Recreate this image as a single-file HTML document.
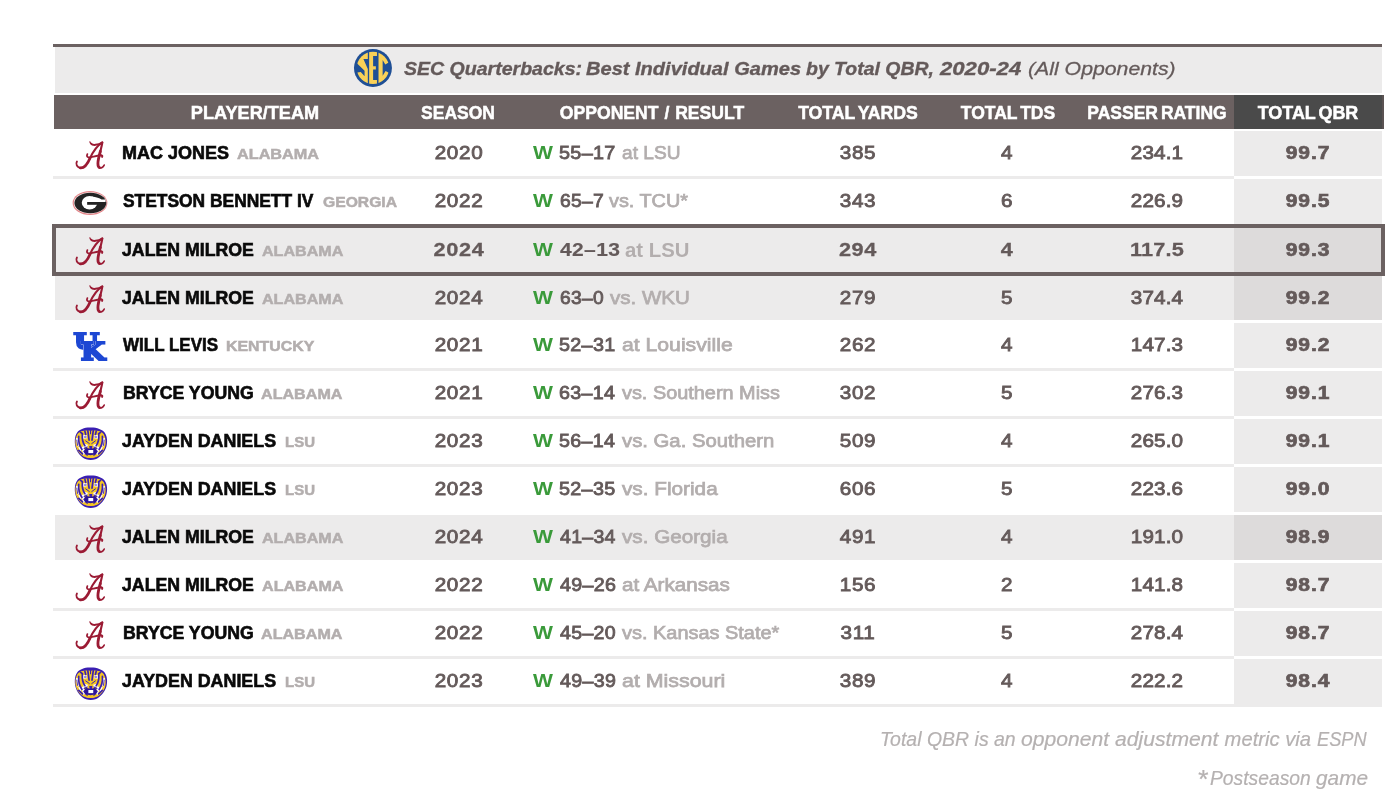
<!DOCTYPE html>
<html lang="en"><head><meta charset="utf-8"><title>SEC Quarterbacks: Best Individual Games by Total QBR</title>
<style>
html,body{margin:0;padding:0;background:#fff;}
body{width:1400px;height:798px;overflow:hidden;position:relative;font-family:"Liberation Sans",sans-serif;}
#wrap{position:absolute;left:0;top:0;width:1400px;height:798px;}
#topline{position:absolute;left:53px;top:44px;width:1329px;height:3px;background:#6b6161;}
#title{position:absolute;left:55px;top:47px;width:1327px;height:46px;background:#ecebeb;}
#sec{position:absolute;left:295px;top:-1px;width:46px;height:44px;}
.tt{position:absolute;left:0;top:0;height:46px;line-height:44px;font-size:19.1px;font-style:italic;color:#645a5a;white-space:nowrap;}
.ts{position:absolute;top:0;transform-origin:0 50%;}
b.ts{font-weight:bold;-webkit-text-stroke:0.35px #645a5a;}
i.ts{font-weight:normal;-webkit-text-stroke:0.3px #645a5a;}
#head{position:absolute;left:54px;top:95px;width:1328px;height:34px;background:#6b6161;border-right:2px solid #5a5252;}
#head:after{content:"";position:absolute;left:1180px;top:0;width:148px;height:34px;background:#4a4a4a;}
.h{position:absolute;top:0;height:34px;line-height:36px;color:#fff;font-weight:bold;font-size:18px;word-spacing:-2px;white-space:nowrap;transform:translateX(-50%) scaleX(1.007);z-index:2;-webkit-text-stroke:0.5px #fff;}
#head .c3{word-spacing:1px;transform:translateX(-50%) scaleX(0.977);}
#head .c2{transform:translateX(-50%) scaleX(0.971);}#head .c4{transform:translateX(-50%) scaleX(0.981);}#head .c5{transform:translateX(-50%) scaleX(0.972);}#head .c6{transform:translateX(-50%) scaleX(0.972);}#head .c7{transform:translateX(-50%) scaleX(0.996);}
#head .c1{left:200.6px}#head .c2{left:404.4px}#head .c3{left:598.2px}#head .c4{left:803.8px}#head .c5{left:953.7px}#head .c6{left:1103.4px}#head .c7{left:1253.5px}
.row{position:absolute;left:54px;width:1328px;height:48px;}
.row .bg{position:absolute;left:-1px;top:2px;width:1181px;height:45px;background:#fff;border-bottom:3px solid #ecebeb;}
.row.nb .bg{border-bottom-color:#fff;}
.row .qb{position:absolute;left:1180px;top:2px;width:148px;height:45px;background:#ecebeb;}
.row.last .qb{height:48px;}
.row.gr .bg,.row.hl .bg{background:#ecebeb;left:1px;width:1179px;border-bottom-color:#fff;}
.row.gr .qb,.row.hl .qb{background:#dddbdb;}
.logo{position:absolute;left:0;top:0;width:0;height:0;}
.lg{position:absolute;display:block;overflow:visible;}
.la{left:16px;top:5px;width:42px;height:40px;}
.lgg{left:16.45px;top:5.7px;width:40px;height:40px;}
.lk{left:16px;top:1px;width:40px;height:40px;}
.ll{left:16.6px;top:6.6px;width:39px;height:39px;filter:blur(0.25px);}
.t{position:absolute;top:0;height:48px;line-height:48px;white-space:nowrap;transform-origin:0 50%;}
.nm{font-weight:bold;font-size:17.5px;color:#0a0a0a;-webkit-text-stroke:0.6px #0a0a0a;}
.tm{font-weight:bold;font-size:14.6px;line-height:50px;color:#b3aeae;-webkit-text-stroke:0.5px #b3aeae;}
.n{position:absolute;top:0;height:48px;line-height:48px;font-size:18.8px;font-weight:normal;color:#645a5a;letter-spacing:0.6px;transform:translateX(-50%) scaleX(1.10);white-space:nowrap;-webkit-text-stroke:0.85px #645a5a;}
.n.c6{letter-spacing:0.15px;}
.hl .n{font-weight:bold;font-size:19.2px;-webkit-text-stroke:0.3px #645a5a;transform:translateX(-50%) scaleX(1.13);}
.n.q{font-weight:bold;font-size:18.8px;letter-spacing:0.8px;transform:translateX(-50%) scaleX(1.12);-webkit-text-stroke:0.7px #645a5a;}
.row .c2{left:404.5px}.row .c4{left:803.7px}.row .c5{left:953.3px}.row .c6{left:1103.3px}.row .c7{left:1253.8px}
.w{left:479.3px;font-size:19px;color:#3a9a3a;font-weight:bold;transform:scaleX(1.11);}
.sc{font-size:18.8px;color:#645a5a;font-weight:normal;letter-spacing:0.3px;-webkit-text-stroke:0.85px #645a5a;}
.hl .sc{font-size:19.2px;font-weight:bold;-webkit-text-stroke:0.15px #645a5a;}
.vs{font-size:19px;color:#b3aeae;-webkit-text-stroke:0.75px #b3aeae;}
.hl .vs{font-size:19.4px;font-weight:bold;-webkit-text-stroke:0;}
#hlbox{position:absolute;left:52px;top:224px;width:1325px;height:44px;border:4px solid #6b6161;}
.ft{position:absolute;left:0;width:1400px;height:28px;line-height:28px;font-size:20.2px;-webkit-text-stroke:0.2px #b5b1b1;font-style:italic;color:#b5b1b1;white-space:nowrap;}
.fs{position:absolute;top:0;transform-origin:0 50%;}
.fs.ast{font-size:25px;top:1px;}
.d2 .t,.d2 .n{top:1px;}

</style></head><body>
<div id="wrap">
<div id="topline"></div>
<div id="title"><svg id="sec" viewBox="0 0 834 798" aria-label="SEC logo"><clipPath id="secc"><circle cx="416" cy="397.5" r="293"/></clipPath><circle cx="416" cy="397.5" r="344" fill="#1f4f95"/><g clip-path="url(#secc)" fill="#f9d158"><polygon points="323,90 323,238 243,238 323,415 323,710 100,710 100,480 130,480 195,472 264,548 264,448 125,312 100,312 100,90"/><polygon points="347,90 489,90 489,183 419,183 419,367 469,367 469,428 419,428 419,617 489,617 489,710 347,710"/><polygon points="517,90 760,90 760,290 700,300 640,335 592,255 592,540 645,455 705,485 760,500 760,710 517,710"/></g></svg><span class="tt"><b class="ts" style="left:348.8px;transform:scaleX(1.023)">SEC Quarterbacks:</b> <b class="ts" style="left:531.3px;transform:scaleX(1.050)">Best Individual Games</b> <b class="ts" style="left:751.0px;transform:scaleX(1.019)">by Total QBR,</b> <b class="ts" style="left:885.4px;transform:scaleX(1.159)">2020-24</b> <i class="ts" style="left:972.8px;transform:scaleX(1.113)">(All Opponents)</i></span></div>
<div id="head"><span class="h c1">PLAYER/TEAM</span> <span class="h c2">SEASON</span> <span class="h c3">OPPONENT / RESULT</span> <span class="h c4">TOTAL YARDS</span> <span class="h c5">TOTAL TDS</span> <span class="h c6">PASSER RATING</span> <span class="h c7">TOTAL QBR</span></div>
<div class="row" style="top:129px"><div class="bg"></div><div class="qb"></div><span class="logo"><svg class="lg la" viewBox="-10 -14 860 819" aria-label="Alabama logo" fill="none" stroke="#9b1b34" stroke-linecap="round" stroke-linejoin="round"><path d="M132,548 C100,600 130,672 215,682" stroke-width="38"/><path d="M200,680 C290,690 350,600 400,480" stroke-width="54"/><path d="M395,490 C450,370 540,230 650,158" stroke-width="42"/><path d="M652,160 C560,218 450,222 425,185" stroke-width="42"/><path d="M430,192 C410,178 402,165 398,148" stroke-width="26"/><path d="M650,172 C640,230 622,300 605,370" stroke-width="44"/><path d="M612,340 C585,440 562,520 562,590 C562,640 575,665 595,672" stroke-width="58"/><path d="M580,672 C630,700 670,660 690,622" stroke-width="34"/><path d="M345,398 C320,450 350,475 420,462 C500,445 600,420 640,422 C655,425 655,445 648,455" stroke-width="38"/></svg></span><span class="t nm" style="left:68.2px;transform:scaleX(1.028)">MAC JONES</span> <span class="t tm" style="left:182.9px;transform:scaleX(1.112)">ALABAMA</span> <span class="n c2">2020</span> <span class="t w">W</span> <span class="t sc" style="left:504.7px;transform:scaleX(1.054)">55–17</span> <span class="t vs" style="left:568.3px;transform:scaleX(1.006)">at LSU</span> <span class="n c4">385</span> <span class="n c5">4</span> <span class="n c6">234.1</span> <span class="n c7 q">99.7</span></div>
<div class="row nb" style="top:177px"><div class="bg"></div><div class="qb"></div><span class="logo"><svg class="lg lgg" viewBox="70.45 182.7 40 40" aria-label="Georgia logo"><ellipse cx="90.45" cy="202.7" rx="17.4" ry="12" fill="#e3868a"/><ellipse cx="90.6" cy="202.65" rx="16.4" ry="10.8" fill="#f6eaea"/><ellipse cx="90.8" cy="202.65" rx="15.9" ry="10.2" fill="#232323"/><ellipse cx="90" cy="202.5" rx="7.8" ry="6.8" fill="#fff"/><path d="M92,196.2 C97,196.6 100,198 102,199.2 L106,199.2 L106,201.7 L92,201.7 Z" fill="#fff"/><rect x="87.6" y="201.7" width="19" height="2.8" fill="#232323"/></svg></span><span class="t nm" style="left:69.0px;transform:scaleX(0.994)">STETSON BENNETT IV</span> <span class="t tm" style="left:268.7px;transform:scaleX(1.074)">GEORGIA</span> <span class="n c2">2022</span> <span class="t w">W</span> <span class="t sc" style="left:505.5px;transform:scaleX(1.027)">65–7</span> <span class="t vs" style="left:555.4px;transform:scaleX(1.044)">vs. TCU*</span> <span class="n c4">343</span> <span class="n c5">6</span> <span class="n c6">226.9</span> <span class="n c7 q">99.5</span></div>
<div class="row hl nb d2" style="top:225px"><div class="bg"></div><div class="qb"></div><span class="logo"><svg class="lg la" viewBox="-10 -14 860 819" aria-label="Alabama logo" fill="none" stroke="#9b1b34" stroke-linecap="round" stroke-linejoin="round"><path d="M132,548 C100,600 130,672 215,682" stroke-width="38"/><path d="M200,680 C290,690 350,600 400,480" stroke-width="54"/><path d="M395,490 C450,370 540,230 650,158" stroke-width="42"/><path d="M652,160 C560,218 450,222 425,185" stroke-width="42"/><path d="M430,192 C410,178 402,165 398,148" stroke-width="26"/><path d="M650,172 C640,230 622,300 605,370" stroke-width="44"/><path d="M612,340 C585,440 562,520 562,590 C562,640 575,665 595,672" stroke-width="58"/><path d="M580,672 C630,700 670,660 690,622" stroke-width="34"/><path d="M345,398 C320,450 350,475 420,462 C500,445 600,420 640,422 C655,425 655,445 648,455" stroke-width="38"/></svg></span><span class="t nm" style="left:68.2px;transform:scaleX(1.012)">JALEN MILROE</span> <span class="t tm" style="left:207.9px;transform:scaleX(1.103)">ALABAMA</span> <span class="n c2">2024</span> <span class="t w">W</span> <span class="t sc" style="left:506.2px;transform:scaleX(1.098)">42–13</span> <span class="t vs" style="left:570.8px;transform:scaleX(1.048)">at LSU</span> <span class="n c4">294</span> <span class="n c5">4</span> <span class="n c6">117.5</span> <span class="n c7 q">99.3</span></div>
<div class="row gr d2" style="top:273px"><div class="bg"></div><div class="qb"></div><span class="logo"><svg class="lg la" viewBox="-10 -14 860 819" aria-label="Alabama logo" fill="none" stroke="#9b1b34" stroke-linecap="round" stroke-linejoin="round"><path d="M132,548 C100,600 130,672 215,682" stroke-width="38"/><path d="M200,680 C290,690 350,600 400,480" stroke-width="54"/><path d="M395,490 C450,370 540,230 650,158" stroke-width="42"/><path d="M652,160 C560,218 450,222 425,185" stroke-width="42"/><path d="M430,192 C410,178 402,165 398,148" stroke-width="26"/><path d="M650,172 C640,230 622,300 605,370" stroke-width="44"/><path d="M612,340 C585,440 562,520 562,590 C562,640 575,665 595,672" stroke-width="58"/><path d="M580,672 C630,700 670,660 690,622" stroke-width="34"/><path d="M345,398 C320,450 350,475 420,462 C500,445 600,420 640,422 C655,425 655,445 648,455" stroke-width="38"/></svg></span><span class="t nm" style="left:68.2px;transform:scaleX(1.012)">JALEN MILROE</span> <span class="t tm" style="left:207.9px;transform:scaleX(1.103)">ALABAMA</span> <span class="n c2">2024</span> <span class="t w">W</span> <span class="t sc" style="left:505.5px;transform:scaleX(1.022)">63–0</span> <span class="t vs" style="left:555.8px;transform:scaleX(1.081)">vs. WKU</span> <span class="n c4">279</span> <span class="n c5">5</span> <span class="n c6">374.4</span> <span class="n c7 q">99.2</span></div>
<div class="row" style="top:321px"><div class="bg"></div><div class="qb"></div><span class="logo"><svg class="lg lk" viewBox="70 322 40 40" aria-label="Kentucky logo" style="font-family:DejaVu Serif,Liberation Serif,serif;font-weight:bold" fill="#1d47d3" stroke="#1d47d3" stroke-width="1.9" stroke-linejoin="miter"><text x="73.5" y="349.2" font-size="22.5" textLength="25.7" lengthAdjust="spacingAndGlyphs">U</text><text x="80.8" y="360.1" font-size="24" textLength="24.5" lengthAdjust="spacingAndGlyphs" style="filter:drop-shadow(0 0 .45px #e4e9fb) drop-shadow(0 0 .45px #e4e9fb)">K</text></svg></span><span class="t nm" style="left:68.8px;transform:scaleX(0.972)">WILL LEVIS</span> <span class="t tm" style="left:172.3px;transform:scaleX(1.090)">KENTUCKY</span> <span class="n c2">2021</span> <span class="t w">W</span> <span class="t sc" style="left:504.7px;transform:scaleX(1.052)">52–31</span> <span class="t vs" style="left:567.5px;transform:scaleX(1.115)">at Louisville</span> <span class="n c4">262</span> <span class="n c5">4</span> <span class="n c6">147.3</span> <span class="n c7 q">99.2</span></div>
<div class="row" style="top:369px"><div class="bg"></div><div class="qb"></div><span class="logo"><svg class="lg la" viewBox="-10 -14 860 819" aria-label="Alabama logo" fill="none" stroke="#9b1b34" stroke-linecap="round" stroke-linejoin="round"><path d="M132,548 C100,600 130,672 215,682" stroke-width="38"/><path d="M200,680 C290,690 350,600 400,480" stroke-width="54"/><path d="M395,490 C450,370 540,230 650,158" stroke-width="42"/><path d="M652,160 C560,218 450,222 425,185" stroke-width="42"/><path d="M430,192 C410,178 402,165 398,148" stroke-width="26"/><path d="M650,172 C640,230 622,300 605,370" stroke-width="44"/><path d="M612,340 C585,440 562,520 562,590 C562,640 575,665 595,672" stroke-width="58"/><path d="M580,672 C630,700 670,660 690,622" stroke-width="34"/><path d="M345,398 C320,450 350,475 420,462 C500,445 600,420 640,422 C655,425 655,445 648,455" stroke-width="38"/></svg></span><span class="t nm" style="left:68.6px;transform:scaleX(1.011)">BRYCE YOUNG</span> <span class="t tm" style="left:207.2px;transform:scaleX(1.104)">ALABAMA</span> <span class="n c2">2021</span> <span class="t w">W</span> <span class="t sc" style="left:505.1px;transform:scaleX(1.047)">63–14</span> <span class="t vs" style="left:568.0px;transform:scaleX(1.046)">vs. Southern Miss</span> <span class="n c4">302</span> <span class="n c5">5</span> <span class="n c6">276.3</span> <span class="n c7 q">99.1</span></div>
<div class="row" style="top:417px"><div class="bg"></div><div class="qb"></div><span class="logo"><svg class="lg ll" viewBox="0 0 798 798" aria-label="LSU logo"><path d="M400,72 C520,68 640,108 692,180 C742,250 752,380 722,470 C692,570 600,682 500,722 C440,742 370,742 310,722 C200,682 118,570 93,470 C68,380 73,250 123,180 C170,108 280,68 400,72Z" fill="#3a1fb2"/><path d="M400,140 C500,120 625,140 668,205 C716,285 722,400 694,482 C668,556 610,622 560,655 C505,702 295,702 240,655 C190,622 132,556 106,482 C78,400 84,285 132,205 C175,140 300,120 400,140Z" fill="#f3c524"/><g fill="#fff"><path d="M100,290 L140,285 L160,455 L128,462 Z"/><path d="M698,290 L658,285 L638,455 L670,462 Z"/><path d="M240,230 L320,225 L330,290 L250,300 Z"/><path d="M560,230 L480,225 L470,290 L550,300 Z"/><path d="M255,400 L345,425 L330,490 L262,475 Z"/><path d="M545,400 L455,425 L470,490 L538,475 Z"/><path d="M205,470 L262,460 L300,600 L255,635 Z"/><path d="M595,470 L538,460 L500,600 L545,635 Z"/><path d="M150,470 L185,465 L215,560 L190,575 Z"/><path d="M650,470 L615,465 L585,560 L610,575 Z"/></g><g fill="none" stroke="#3a1fb2" stroke-width="34" stroke-linecap="round"><path d="M158,250 C150,340 175,450 225,520"/><path d="M642,250 C650,340 625,450 575,520"/><path d="M232,215 C225,300 245,390 285,445"/><path d="M568,215 C575,300 555,390 515,445"/><path d="M160,540 L235,610"/><path d="M640,540 L565,610"/><path d="M285,150 L300,215"/><path d="M515,150 L500,215"/><path d="M345,140 L370,330"/><path d="M455,140 L430,330"/><path d="M195,170 L235,200"/><path d="M605,170 L565,200"/><path d="M400,130 L400,200" stroke-width="22"/><path d="M120,330 L135,440" stroke-width="18"/><path d="M678,330 L663,440" stroke-width="18"/><path d="M265,560 L330,640" stroke-width="28"/><path d="M535,560 L470,640" stroke-width="28"/><path d="M330,470 L270,500" stroke-width="22"/><path d="M470,470 L530,500" stroke-width="22"/><path d="M300,345 L375,400" stroke-width="20"/><path d="M500,345 L425,400" stroke-width="20"/></g><g fill="#3a1fb2"><ellipse cx="292" cy="268" rx="34" ry="20" opacity=".55"/><ellipse cx="508" cy="268" rx="34" ry="20" opacity=".55"/><path d="M372,452 L438,452 L428,515 L382,515 Z"/><path d="M305,488 L390,505 L410,505 L495,488 L535,545 L512,618 L400,640 L288,618 L265,545 Z" fill="#2d1499"/></g><rect x="355" y="532" width="100" height="64" fill="#fff"/><path d="M300,640 C350,672 450,672 500,640 L515,668 C460,705 340,705 285,668 Z" fill="#f3c524"/></svg></span><span class="t nm" style="left:68.4px;transform:scaleX(1.020)">JAYDEN DANIELS</span> <span class="t tm" style="left:230.6px;transform:scaleX(1.027)">LSU</span> <span class="n c2">2023</span> <span class="t w">W</span> <span class="t sc" style="left:504.8px;transform:scaleX(1.047)">56–14</span> <span class="t vs" style="left:568.0px;transform:scaleX(1.068)">vs. Ga. Southern</span> <span class="n c4">509</span> <span class="n c5">4</span> <span class="n c6">265.0</span> <span class="n c7 q">99.1</span></div>
<div class="row nb" style="top:465px"><div class="bg"></div><div class="qb"></div><span class="logo"><svg class="lg ll" viewBox="0 0 798 798" aria-label="LSU logo"><path d="M400,72 C520,68 640,108 692,180 C742,250 752,380 722,470 C692,570 600,682 500,722 C440,742 370,742 310,722 C200,682 118,570 93,470 C68,380 73,250 123,180 C170,108 280,68 400,72Z" fill="#3a1fb2"/><path d="M400,140 C500,120 625,140 668,205 C716,285 722,400 694,482 C668,556 610,622 560,655 C505,702 295,702 240,655 C190,622 132,556 106,482 C78,400 84,285 132,205 C175,140 300,120 400,140Z" fill="#f3c524"/><g fill="#fff"><path d="M100,290 L140,285 L160,455 L128,462 Z"/><path d="M698,290 L658,285 L638,455 L670,462 Z"/><path d="M240,230 L320,225 L330,290 L250,300 Z"/><path d="M560,230 L480,225 L470,290 L550,300 Z"/><path d="M255,400 L345,425 L330,490 L262,475 Z"/><path d="M545,400 L455,425 L470,490 L538,475 Z"/><path d="M205,470 L262,460 L300,600 L255,635 Z"/><path d="M595,470 L538,460 L500,600 L545,635 Z"/><path d="M150,470 L185,465 L215,560 L190,575 Z"/><path d="M650,470 L615,465 L585,560 L610,575 Z"/></g><g fill="none" stroke="#3a1fb2" stroke-width="34" stroke-linecap="round"><path d="M158,250 C150,340 175,450 225,520"/><path d="M642,250 C650,340 625,450 575,520"/><path d="M232,215 C225,300 245,390 285,445"/><path d="M568,215 C575,300 555,390 515,445"/><path d="M160,540 L235,610"/><path d="M640,540 L565,610"/><path d="M285,150 L300,215"/><path d="M515,150 L500,215"/><path d="M345,140 L370,330"/><path d="M455,140 L430,330"/><path d="M195,170 L235,200"/><path d="M605,170 L565,200"/><path d="M400,130 L400,200" stroke-width="22"/><path d="M120,330 L135,440" stroke-width="18"/><path d="M678,330 L663,440" stroke-width="18"/><path d="M265,560 L330,640" stroke-width="28"/><path d="M535,560 L470,640" stroke-width="28"/><path d="M330,470 L270,500" stroke-width="22"/><path d="M470,470 L530,500" stroke-width="22"/><path d="M300,345 L375,400" stroke-width="20"/><path d="M500,345 L425,400" stroke-width="20"/></g><g fill="#3a1fb2"><ellipse cx="292" cy="268" rx="34" ry="20" opacity=".55"/><ellipse cx="508" cy="268" rx="34" ry="20" opacity=".55"/><path d="M372,452 L438,452 L428,515 L382,515 Z"/><path d="M305,488 L390,505 L410,505 L495,488 L535,545 L512,618 L400,640 L288,618 L265,545 Z" fill="#2d1499"/></g><rect x="355" y="532" width="100" height="64" fill="#fff"/><path d="M300,640 C350,672 450,672 500,640 L515,668 C460,705 340,705 285,668 Z" fill="#f3c524"/></svg></span><span class="t nm" style="left:68.4px;transform:scaleX(1.020)">JAYDEN DANIELS</span> <span class="t tm" style="left:230.6px;transform:scaleX(1.027)">LSU</span> <span class="n c2">2023</span> <span class="t w">W</span> <span class="t sc" style="left:504.7px;transform:scaleX(1.052)">52–35</span> <span class="t vs" style="left:568.1px;transform:scaleX(1.092)">vs. Florida</span> <span class="n c4">606</span> <span class="n c5">5</span> <span class="n c6">223.6</span> <span class="n c7 q">99.0</span></div>
<div class="row gr" style="top:513px"><div class="bg"></div><div class="qb"></div><span class="logo"><svg class="lg la" viewBox="-10 -14 860 819" aria-label="Alabama logo" fill="none" stroke="#9b1b34" stroke-linecap="round" stroke-linejoin="round"><path d="M132,548 C100,600 130,672 215,682" stroke-width="38"/><path d="M200,680 C290,690 350,600 400,480" stroke-width="54"/><path d="M395,490 C450,370 540,230 650,158" stroke-width="42"/><path d="M652,160 C560,218 450,222 425,185" stroke-width="42"/><path d="M430,192 C410,178 402,165 398,148" stroke-width="26"/><path d="M650,172 C640,230 622,300 605,370" stroke-width="44"/><path d="M612,340 C585,440 562,520 562,590 C562,640 575,665 595,672" stroke-width="58"/><path d="M580,672 C630,700 670,660 690,622" stroke-width="34"/><path d="M345,398 C320,450 350,475 420,462 C500,445 600,420 640,422 C655,425 655,445 648,455" stroke-width="38"/></svg></span><span class="t nm" style="left:68.2px;transform:scaleX(1.012)">JALEN MILROE</span> <span class="t tm" style="left:207.9px;transform:scaleX(1.103)">ALABAMA</span> <span class="n c2">2024</span> <span class="t w">W</span> <span class="t sc" style="left:506.0px;transform:scaleX(1.037)">41–34</span> <span class="t vs" style="left:567.9px;transform:scaleX(1.088)">vs. Georgia</span> <span class="n c4">491</span> <span class="n c5">4</span> <span class="n c6">191.0</span> <span class="n c7 q">98.9</span></div>
<div class="row" style="top:561px"><div class="bg"></div><div class="qb"></div><span class="logo"><svg class="lg la" viewBox="-10 -14 860 819" aria-label="Alabama logo" fill="none" stroke="#9b1b34" stroke-linecap="round" stroke-linejoin="round"><path d="M132,548 C100,600 130,672 215,682" stroke-width="38"/><path d="M200,680 C290,690 350,600 400,480" stroke-width="54"/><path d="M395,490 C450,370 540,230 650,158" stroke-width="42"/><path d="M652,160 C560,218 450,222 425,185" stroke-width="42"/><path d="M430,192 C410,178 402,165 398,148" stroke-width="26"/><path d="M650,172 C640,230 622,300 605,370" stroke-width="44"/><path d="M612,340 C585,440 562,520 562,590 C562,640 575,665 595,672" stroke-width="58"/><path d="M580,672 C630,700 670,660 690,622" stroke-width="34"/><path d="M345,398 C320,450 350,475 420,462 C500,445 600,420 640,422 C655,425 655,445 648,455" stroke-width="38"/></svg></span><span class="t nm" style="left:68.2px;transform:scaleX(1.012)">JALEN MILROE</span> <span class="t tm" style="left:207.8px;transform:scaleX(1.104)">ALABAMA</span> <span class="n c2">2022</span> <span class="t w">W</span> <span class="t sc" style="left:505.9px;transform:scaleX(1.047)">49–26</span> <span class="t vs" style="left:568.1px;transform:scaleX(1.087)">at Arkansas</span> <span class="n c4">156</span> <span class="n c5">2</span> <span class="n c6">141.8</span> <span class="n c7 q">98.7</span></div>
<div class="row" style="top:609px"><div class="bg"></div><div class="qb"></div><span class="logo"><svg class="lg la" viewBox="-10 -14 860 819" aria-label="Alabama logo" fill="none" stroke="#9b1b34" stroke-linecap="round" stroke-linejoin="round"><path d="M132,548 C100,600 130,672 215,682" stroke-width="38"/><path d="M200,680 C290,690 350,600 400,480" stroke-width="54"/><path d="M395,490 C450,370 540,230 650,158" stroke-width="42"/><path d="M652,160 C560,218 450,222 425,185" stroke-width="42"/><path d="M430,192 C410,178 402,165 398,148" stroke-width="26"/><path d="M650,172 C640,230 622,300 605,370" stroke-width="44"/><path d="M612,340 C585,440 562,520 562,590 C562,640 575,665 595,672" stroke-width="58"/><path d="M580,672 C630,700 670,660 690,622" stroke-width="34"/><path d="M345,398 C320,450 350,475 420,462 C500,445 600,420 640,422 C655,425 655,445 648,455" stroke-width="38"/></svg></span><span class="t nm" style="left:68.6px;transform:scaleX(1.011)">BRYCE YOUNG</span> <span class="t tm" style="left:207.2px;transform:scaleX(1.104)">ALABAMA</span> <span class="n c2">2022</span> <span class="t w">W</span> <span class="t sc" style="left:505.9px;transform:scaleX(1.042)">45–20</span> <span class="t vs" style="left:568.0px;transform:scaleX(1.049)">vs. Kansas State*</span> <span class="n c4">311</span> <span class="n c5">5</span> <span class="n c6">278.4</span> <span class="n c7 q">98.7</span></div>
<div class="row last" style="top:657px"><div class="bg"></div><div class="qb"></div><span class="logo"><svg class="lg ll" viewBox="0 0 798 798" aria-label="LSU logo"><path d="M400,72 C520,68 640,108 692,180 C742,250 752,380 722,470 C692,570 600,682 500,722 C440,742 370,742 310,722 C200,682 118,570 93,470 C68,380 73,250 123,180 C170,108 280,68 400,72Z" fill="#3a1fb2"/><path d="M400,140 C500,120 625,140 668,205 C716,285 722,400 694,482 C668,556 610,622 560,655 C505,702 295,702 240,655 C190,622 132,556 106,482 C78,400 84,285 132,205 C175,140 300,120 400,140Z" fill="#f3c524"/><g fill="#fff"><path d="M100,290 L140,285 L160,455 L128,462 Z"/><path d="M698,290 L658,285 L638,455 L670,462 Z"/><path d="M240,230 L320,225 L330,290 L250,300 Z"/><path d="M560,230 L480,225 L470,290 L550,300 Z"/><path d="M255,400 L345,425 L330,490 L262,475 Z"/><path d="M545,400 L455,425 L470,490 L538,475 Z"/><path d="M205,470 L262,460 L300,600 L255,635 Z"/><path d="M595,470 L538,460 L500,600 L545,635 Z"/><path d="M150,470 L185,465 L215,560 L190,575 Z"/><path d="M650,470 L615,465 L585,560 L610,575 Z"/></g><g fill="none" stroke="#3a1fb2" stroke-width="34" stroke-linecap="round"><path d="M158,250 C150,340 175,450 225,520"/><path d="M642,250 C650,340 625,450 575,520"/><path d="M232,215 C225,300 245,390 285,445"/><path d="M568,215 C575,300 555,390 515,445"/><path d="M160,540 L235,610"/><path d="M640,540 L565,610"/><path d="M285,150 L300,215"/><path d="M515,150 L500,215"/><path d="M345,140 L370,330"/><path d="M455,140 L430,330"/><path d="M195,170 L235,200"/><path d="M605,170 L565,200"/><path d="M400,130 L400,200" stroke-width="22"/><path d="M120,330 L135,440" stroke-width="18"/><path d="M678,330 L663,440" stroke-width="18"/><path d="M265,560 L330,640" stroke-width="28"/><path d="M535,560 L470,640" stroke-width="28"/><path d="M330,470 L270,500" stroke-width="22"/><path d="M470,470 L530,500" stroke-width="22"/><path d="M300,345 L375,400" stroke-width="20"/><path d="M500,345 L425,400" stroke-width="20"/></g><g fill="#3a1fb2"><ellipse cx="292" cy="268" rx="34" ry="20" opacity=".55"/><ellipse cx="508" cy="268" rx="34" ry="20" opacity=".55"/><path d="M372,452 L438,452 L428,515 L382,515 Z"/><path d="M305,488 L390,505 L410,505 L495,488 L535,545 L512,618 L400,640 L288,618 L265,545 Z" fill="#2d1499"/></g><rect x="355" y="532" width="100" height="64" fill="#fff"/><path d="M300,640 C350,672 450,672 500,640 L515,668 C460,705 340,705 285,668 Z" fill="#f3c524"/></svg></span><span class="t nm" style="left:68.4px;transform:scaleX(1.020)">JAYDEN DANIELS</span> <span class="t tm" style="left:230.6px;transform:scaleX(1.027)">LSU</span> <span class="n c2">2023</span> <span class="t w">W</span> <span class="t sc" style="left:505.9px;transform:scaleX(1.046)">49–39</span> <span class="t vs" style="left:568.3px;transform:scaleX(1.125)">at Missouri</span> <span class="n c4">389</span> <span class="n c5">4</span> <span class="n c6">222.2</span> <span class="n c7 q">98.4</span></div>
<div id="hlbox"></div>
<div class="ft" id="ftf" style="top:725px"><span class="fs" style="left:880.0px;transform:scaleX(0.965)">Total QBR is an</span> <span class="fs" style="left:1021.1px;transform:scaleX(1.047)">opponent adjustment</span> <span class="fs" style="left:1224.6px">metric via</span> <span class="fs" style="left:1317.4px;transform:scaleX(0.903)">ESPN</span></div>
<div class="ft" id="ftg" style="top:764px"><span class="fs ast" style="left:1197.3px;transform:scaleX(1.068)">*</span><span class="fs" style="left:1209.5px;transform:scaleX(0.955)">Postseason</span> <span class="fs" style="left:1315.7px;transform:scaleX(1.031)">game</span></div>
</div>
</body></html>
